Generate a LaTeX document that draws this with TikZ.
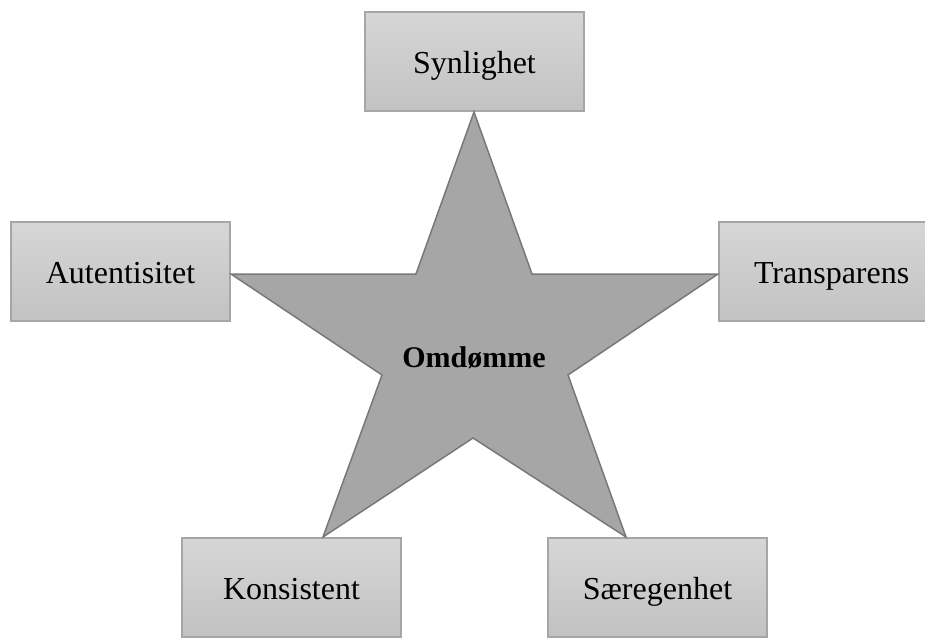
\documentclass[tikz,border=0pt]{standalone}
\usepackage{fontspec}
\setmainfont{Liberation Serif}
\definecolor{boxtop}{RGB}{214,214,214}
\definecolor{boxbot}{RGB}{194,194,194}
\definecolor{boxline}{RGB}{166,166,166}
\definecolor{starfill}{RGB}{166,166,166}
\definecolor{starline}{RGB}{120,120,120}
\begin{document}
\begin{tikzpicture}[x=1pt,y=-1pt,
  factor/.style={draw=boxline, line width=1.2pt, top color=boxtop, bottom color=boxbot,
    minimum width=219pt, minimum height=99pt, inner sep=0pt, text height=27pt, text depth=4pt,
    font=\fontsize{32}{36}\selectfont},
  starshape/.style={fill=starfill, draw=starline, line width=1.5pt, line join=miter}]
\useasboundingbox (0,0) rectangle (925,637);
\clip (0,0) rectangle (925,637);
\fill[white] (0,0) rectangle (925,637);
\node[factor] (syn) at (474.5,61.5) {Synlighet};
\node[factor] (aut) at (120.5,271.5) {Autentisitet};
\node[factor, text width=207pt, align=left] (tra) at (828.5,271.5) {\hspace*{29pt}Transparens};
\node[factor] (kon) at (291.5,587.5) {Konsistent};
\node[factor] (sae) at (657.5,587.5) {Særegenhet};
\coordinate (pT) at (474,112);
\coordinate (iTR) at (532,274);
\coordinate (pR) at (718,274);
\coordinate (iR) at (568,375);
\coordinate (pBR) at (626,537);
\coordinate (iB) at (473,438);
\coordinate (pBL) at (323,537);
\coordinate (iL) at (382,375);
\coordinate (pL) at (231,274);
\coordinate (iTL) at (416,274);
\draw[starshape] (pT) -- (iTR) -- (pR) -- (iR) -- (pBR) -- (iB) -- (pBL) -- (iL) -- (pL) -- (iTL) -- cycle;
\node[font=\fontsize{30}{34}\selectfont\bfseries, anchor=base, inner sep=0pt] (omd) at (474,367) {Omdømme};
\end{tikzpicture}
\end{document}
